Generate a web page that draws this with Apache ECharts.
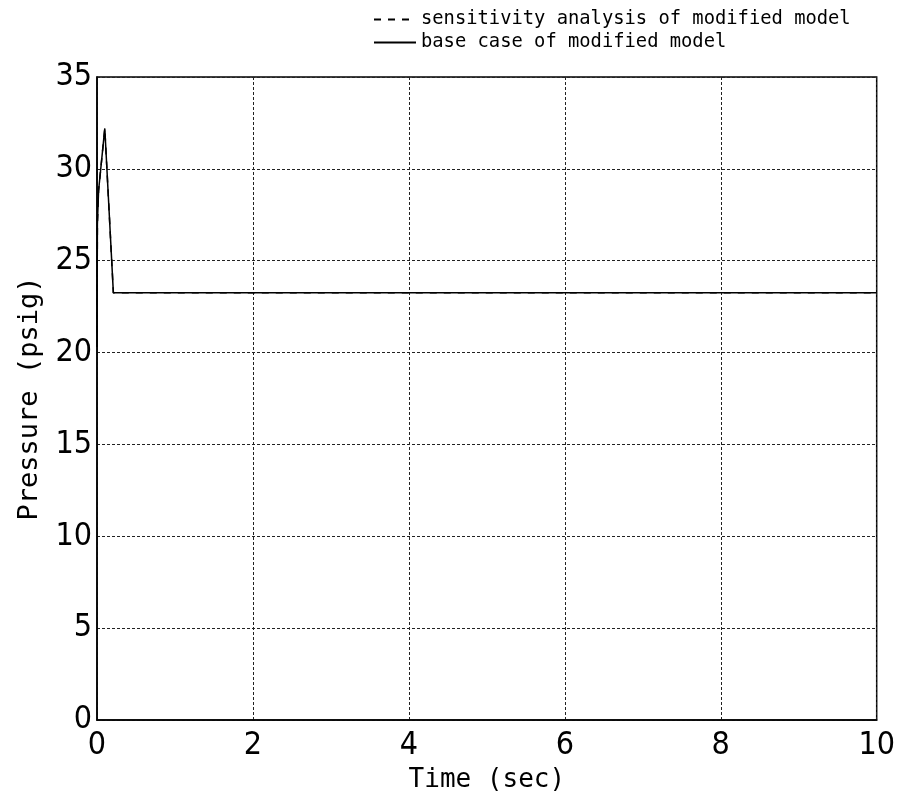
<!DOCTYPE html>
<html>
<head>
<meta charset="utf-8">
<script src="https://cdn.jsdelivr.net/npm/echarts@6/dist/echarts.min.js"></script>
<style>html,body{margin:0;padding:0;background:#fff}#c{width:898px;height:802px}</style>
</head>
<body>
<div id="c"></div>
<script>
const timeSec = [0, 0.005, 0.02, 0.1, 0.21, 0.5, 2, 4, 6, 8, 10];
const basePressure = [20.3, 27.0, 28.8, 32.2, 23.25, 23.25, 23.25, 23.25, 23.25, 23.25, 23.25];
const sensPressure = [20.3, 27.0, 28.8, 32.2, 23.25, 23.25, 23.25, 23.25, 23.25, 23.25, 23.25];
const xTicks = [0, 2, 4, 6, 8, 10];
const yTicks = [0, 5, 10, 15, 20, 25, 30, 35];
const seriesNames = ['sensitivity analysis of modified model', 'base case of modified model'];

const tickFont = '"DejaVu Sans Condensed", sans-serif';
const monoFont = '"DejaVu Sans Mono", monospace';

const chart = echarts.init(document.getElementById('c'), null, {renderer: 'canvas'});
chart.setOption({
  backgroundColor: '#fff',
  animation: false,
  legend: {
    show: true,
    orient: 'vertical',
    left: 368,
    top: 5,
    itemWidth: 42,
    itemHeight: 14,
    itemGap: 4,
    itemStyle: {color: 'rgba(0,0,0,0)', borderColor: 'rgba(0,0,0,0)', borderWidth: 0},
    textStyle: {fontFamily: monoFont, fontSize: 18.8, color: '#000'},
    data: seriesNames.map(n => ({name: n}))
  },
  grid: {left: 97, right: 21, top: 77, bottom: 82, show: true, borderColor: '#000', borderWidth: 1.5, backgroundColor: 'transparent'},
  xAxis: {
    type: 'value', min: 0, max: 10, interval: 2,
    name: 'Time (sec)', nameLocation: 'middle', nameGap: 43,
    nameTextStyle: {fontFamily: monoFont, fontSize: 26, color: '#000'},
    axisLine: {show: true, lineStyle: {color: '#000', width: 1.5}},
    axisTick: {show: false},
    axisLabel: {fontFamily: tickFont, fontSize: 32, color: '#000', margin: 10,
      formatter: v => xTicks.includes(v) ? String(v) : ''},
    splitLine: {show: true, lineStyle: {color: '#222', type: [3, 2], width: 1}}
  },
  yAxis: {
    type: 'value', min: 0, max: 35, interval: 5,
    name: 'Pressure (psig)', nameLocation: 'middle', nameGap: 54, nameRotate: 90,
    nameTextStyle: {fontFamily: monoFont, fontSize: 27, color: '#000'},
    axisLine: {show: true, lineStyle: {color: '#000', width: 1.5}},
    axisTick: {show: false},
    axisLabel: {fontFamily: tickFont, fontSize: 32, color: '#000', margin: 5,
      formatter: v => yTicks.includes(v) ? String(v) : ''},
    splitLine: {show: true, lineStyle: {color: '#222', type: [3, 2], width: 1}}
  },
  series: [
    {
      name: seriesNames[0], type: 'line', symbol: 'none', z: 2,
      data: timeSec.map((t, i) => [t, sensPressure[i]]),
      lineStyle: {color: '#000', width: 1.5, type: [7, 7]},
      itemStyle: {color: '#000'}
    },
    {
      name: seriesNames[1], type: 'line', symbol: 'none', z: 3,
      data: timeSec.map((t, i) => [t, basePressure[i]]),
      lineStyle: {color: '#000', width: 1.5, type: 'solid'},
      itemStyle: {color: '#000'}
    }
  ]
});
</script>
</body>
</html>
